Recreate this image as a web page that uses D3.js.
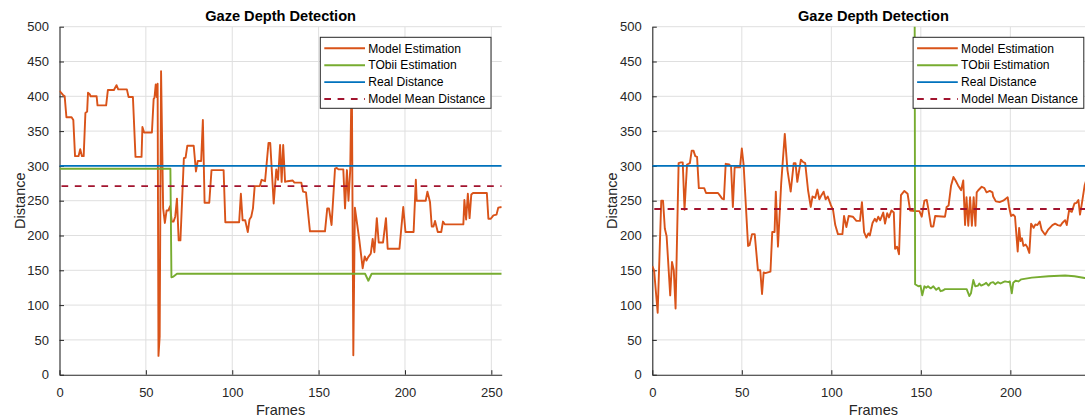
<!DOCTYPE html>
<html>
<head>
<meta charset="utf-8">
<script src="https://cdn.jsdelivr.net/npm/d3@7"></script>
<style>
  html, body { margin: 0; padding: 0; background: #fff; }
  svg { display: block; font-family: "Liberation Sans", Arial, Helvetica, sans-serif; }
</style>
</head>
<body>
<svg id="chart" width="1085" height="419"></svg>
<script>
// ---- data: [frame, distance] ----
const leftModel = [
  [0,408],[1,405],[2,402],[3,400],[4,370],[7,370],[8,366],[9,314],[11,314],[12,324],[13,314],[14,314],
  [15,376],[16,378],[16.5,405],[17.5,403],[18,400],[21.5,400],[22,387],[27,387],[28,409],[31.5,409],
  [33,416],[34,410],[39,410],[40,399],[42.5,399],[44,313],[47.5,313],[48,356],[49,348],[53.5,348],
  [54.5,396],[55,398],[55.7,417],[56.3,399],[56.8,418],[57.3,27],[58,55],[58.8,436],[60,239],[61,218],
  [62,236],[63,236],[64,242],[65,220],[66,220],[67,227],[68,253],[69,193],[70,193],[72,311],[73,312],
  [74,329],[77.7,329],[79,292],[80,307],[82,307],[83,366],[84,247],[86.7,247],[88,294],[95,294],
  [96,219],[104,219],[105,260],[106,222],[107.5,222],[109,205],[110,223],[111,227],[112,239],[113,271],
  [116,271],[117,280],[119,278],[121,333],[122,333],[124,246],[125.5,295],[126.5,280],[127.7,330],
  [128.6,277],[129.5,330],[130.6,277],[132,278],[135,279],[136,276],[140,276],[141,263],[142.7,262],
  [145,206],[153.7,206],[155,239],[156,239],[157.5,215],[159.5,296],[160.5,297],[161.5,295],[164.3,295],
  [165.3,239],[166.4,294],[167.3,250],[168.3,294],[169.2,440],[170.1,28],[171,240],[172.4,215],
  [173.6,193],[175.5,153],[176.7,170],[177.7,164],[178.7,169],[180.2,174],[181.3,195],[182.3,176],
  [183.7,225],[184.8,190],[187.3,190],[189,225],[190,181],[196.8,181],[199,241],[200.3,205],[205,205],
  [206.3,280],[206.8,250],[212,250],[213,263],[214.5,248],[215.5,213],[216.5,213],[217.4,221],[219,205],
  [221,205],[222,220],[223,216],[233.8,216],[234.4,251],[235.4,223],[236.4,260],[237.4,225],[238.4,259],
  [239.4,261],[247.4,261],[248.3,224],[249.7,224],[251.2,229],[253,230],[254,240],[256,241]
];
const leftTobii = [
  [0,296],[64.2,296],[64.8,140],[66,141],[68,145],[176.9,145],[178.8,135],[180.7,145],[256,145]
];
const leftReal = 300;
const leftMean = 271;

const rightModel = [
  [0,156],[1,150],[3,89],[5,250],[6,250],[7,210],[8,199],[10,114],[11,162],[12,150],[13,95],
  [14.7,304],[16,305],[17,305],[18,237],[19.4,302],[21,304],[22,322],[23,322],[24,314],[25,313],
  [26,268],[29,268],[30,261],[36.7,261],[37.6,258],[39,253],[40,252],[41,303],[43,302],[44,299],
  [45,241],[46,298],[49,298],[50,325],[51,302],[53.5,185],[54.3,186],[55.7,202],[57.2,202],[59,150],
  [60.3,150],[61.3,116],[62.2,147],[63.1,146],[66,148],[67,205],[68.3,205],[69,263],[70.2,184],
  [72,275],[74,346],[75.5,294],[77.3,263],[79,304],[80,304],[81,277],[83,309],[84,306],[85.4,304],
  [87,265],[88.5,241],[89.5,256],[91,254],[92.2,266],[93.3,252],[94.5,258],[95.7,263],[96.8,252],
  [98,256],[99.7,244],[101,236],[102.2,215],[103.7,202],[106.2,202],[107.1,228],[108.4,212],
  [109.7,228],[112,227],[114,221],[116,221],[117.1,248],[118.3,205],[119.6,197],[120.7,203],
  [121.5,200],[123,218],[124.3,224],[125.2,220],[126.2,227],[127.3,222],[129,233],[130,217],
  [131.2,232],[132.2,226],[133.6,236],[134.9,233],[135.6,181],[136.7,184],[137.8,173],[138.9,258],
  [140.8,264],[142.6,260],[144,236],[146.8,235],[149.2,235],[150.5,227],[152,250],[153.3,251],
  [154,241],[155.7,213],[157,213],[158,228],[163.5,227],[164.4,241],[165.5,243],[166.9,272],
  [168.2,284],[169.4,279],[170.8,272],[172.5,265],[173.7,279],[174.7,215],[175.5,255],[176.5,214],
  [177.5,255],[178.5,214],[179.5,255],[180.5,214],[181.2,262],[182.1,265],[184,270],[185.5,268],
  [186.7,262],[188.5,264],[190,262],[190.4,256],[191.9,249],[194,248],[196,250],[198.5,255],
  [199.3,241],[200.4,228],[201.6,230],[202.6,227],[204.1,177],[204.9,211],[205.7,192],[206.5,196],
  [207.3,185],[208.5,187],[209.5,183],[210.6,175],[211.6,217],[213,211],[214,216],[215.1,215],
  [216.4,220],[217.5,208],[219.4,201],[221,208],[223.5,215],[225,217],[226.5,215],[228,214],
  [229,218],[230.6,222],[231.5,215],[232.8,236],[234.3,234],[235.8,246],[237,247],[238,251],
  [238.9,230],[240,247],[241.5,272],[243,285]
];
const rightTobii = [
  [146.5,600],[146.8,130],[148.6,127],[149.8,128],[150.8,114],[152,127],[153,125],[154,127],
  [155.5,124],[157,127],[158.6,122],[160,125],[161,120],[162.3,121],[163.5,123],[175.6,123],
  [177.1,113],[178,117],[179.3,136],[180.4,127],[182,128],[182.7,131],[183.7,128],[185.5,130],
  [186.5,132],[187.8,128],[189,132],[190.4,133],[191.5,130],[193,133],[194.5,131],[196,133],
  [197,134],[199,133],[199.7,134],[200.8,117],[201.6,132],[202.9,135],[204.5,134],[206.1,137],
  [212,139.5],[221.3,141.5],[230.6,142.5],[235.8,141.5],[241.5,139],[247,137]
];
const rightReal = 300;
const rightMean = 238;

const titleText = "Gaze Depth Detection";
const xLabel = "Frames";
const yLabel = "Distance";
const legendLabels = ["Model Estimation", "TObii Estimation", "Real Distance", "Model Mean Distance"];
const yTicks = [0, 50, 100, 150, 200, 250, 300, 350, 400, 450, 500];
const xTicks = [0, 50, 100, 150, 200, 250];

// ---- styling ----
const COLORS = { model: "#D95319", tobii: "#77AC30", real: "#0072BD", mean: "#A2142F" };
const AXIS = "#262626";
const GRID = "#dfdfdf";
const LW = 1.9;
const DASH = "6.7,6.6";

const svg = d3.select("#chart");

function drawPanel(id, left, xMax, model, tobii, real, mean) {
  const top = 26.7, bottom = 374.7, width = 442.2;
  const x = d3.scaleLinear().domain([0, xMax]).range([left, left + width]);
  const y = d3.scaleLinear().domain([0, 500]).range([bottom, top]);
  const g = svg.append("g");

  g.append("clipPath").attr("id", "clip-" + id)
    .append("rect").attr("x", left).attr("y", top).attr("width", width).attr("height", bottom - top);

  // grid
  g.append("g").selectAll("line").data(xTicks.filter(t => t > 0 && t <= xMax)).join("line")
    .attr("x1", d => x(d)).attr("x2", d => x(d)).attr("y1", top).attr("y2", bottom)
    .attr("stroke", GRID).attr("stroke-width", 1);
  g.append("g").selectAll("line").data(yTicks.filter(t => t > 0)).join("line")
    .attr("x1", left).attr("x2", left + width).attr("y1", d => y(d)).attr("y2", d => y(d))
    .attr("stroke", GRID).attr("stroke-width", 1);

  // axes (inward ticks, left and bottom only)
  const xAxis = d3.axisBottom(x).tickValues(xTicks.filter(t => t <= xMax)).tickSizeInner(-4.5).tickSizeOuter(0).tickPadding(13);
  const yAxis = d3.axisLeft(y).tickValues(yTicks).tickSizeInner(-4.5).tickSizeOuter(0).tickPadding(10.5);
  const gx = g.append("g").attr("transform", `translate(0,${bottom})`).call(xAxis);
  const gy = g.append("g").attr("transform", `translate(${left},0)`).call(yAxis);
  [gx, gy].forEach(a => {
    a.select(".domain").attr("stroke", AXIS).attr("stroke-width", 1.1);
    a.selectAll(".tick line").attr("stroke", AXIS).attr("stroke-width", 1);
    a.selectAll(".tick text").attr("fill", AXIS).attr("font-size", 13)
      .attr("font-family", "'Liberation Sans', Arial, sans-serif");
  });
  gx.selectAll(".tick text").attr("dy", "0.71em");

  // series
  const line = d3.line().x(d => x(d[0])).y(d => y(d[1]));
  const plot = g.append("g").attr("clip-path", `url(#clip-${id})`);
  plot.append("path").datum(model).attr("d", line).attr("fill", "none")
    .attr("stroke", COLORS.model).attr("stroke-width", LW).attr("stroke-linejoin", "round");
  plot.append("path").datum(tobii).attr("d", line).attr("fill", "none")
    .attr("stroke", COLORS.tobii).attr("stroke-width", LW).attr("stroke-linejoin", "round");
  plot.append("line").attr("x1", x(0)).attr("x2", x(xMax)).attr("y1", y(real)).attr("y2", y(real))
    .attr("stroke", COLORS.real).attr("stroke-width", LW);
  plot.append("line").attr("x1", x(0) + 2).attr("x2", x(xMax)).attr("y1", y(mean)).attr("y2", y(mean))
    .attr("stroke", COLORS.mean).attr("stroke-width", LW).attr("stroke-dasharray", DASH);

  // labels
  const cx = left + width / 2;
  g.append("text").attr("x", cx).attr("y", 21.3).attr("text-anchor", "middle")
    .attr("font-size", 14.6).attr("font-weight", "bold").attr("fill", "#000").text(titleText);
  g.append("text").attr("x", cx).attr("y", 414.5).attr("text-anchor", "middle")
    .attr("font-size", 14.5).attr("fill", AXIS).text(xLabel);
  g.append("text").attr("transform", `translate(${left - 35},${(top + bottom) / 2}) rotate(-90)`)
    .attr("text-anchor", "middle").attr("font-size", 14.5).attr("fill", AXIS).text(yLabel);

  // legend
  const lx = left + width - 181.4, ly = 37.3, lw = 170.7, lh = 71;
  const lg = g.append("g");
  lg.append("rect").attr("x", lx).attr("y", ly).attr("width", lw).attr("height", lh)
    .attr("fill", "#fff").attr("stroke", AXIS).attr("stroke-width", 1);
  const items = [
    { label: legendLabels[0], color: COLORS.model, dash: null },
    { label: legendLabels[1], color: COLORS.tobii, dash: null },
    { label: legendLabels[2], color: COLORS.real, dash: null },
    { label: legendLabels[3], color: COLORS.mean, dash: DASH }
  ];
  items.forEach((it, i) => {
    const cy = 48.3 + i * 16.9;
    lg.append("line").attr("x1", lx + 4).attr("x2", lx + 44.7).attr("y1", cy).attr("y2", cy)
      .attr("stroke", it.color).attr("stroke-width", LW).attr("stroke-dasharray", it.dash);
    lg.append("text").attr("x", lx + 48).attr("y", cy).attr("dy", "0.35em")
      .attr("font-size", 12.1).attr("fill", "#000").text(it.label);
  });
}

drawPanel("left", 59.5, 256, leftModel, leftTobii, leftReal, leftMean);
drawPanel("right", 652.3, 247, rightModel, rightTobii, rightReal, rightMean);
</script>
</body>
</html>
